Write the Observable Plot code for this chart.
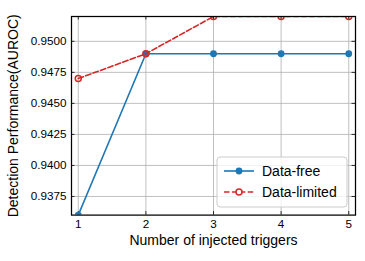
<!DOCTYPE html>
<html><head><meta charset="utf-8">
<script src="https://cdn.jsdelivr.net/npm/d3@7"></script>
<script src="https://cdn.jsdelivr.net/npm/@observablehq/plot@0.6"></script>
<style>body{margin:0;background:white;} #chart{position:relative;width:365px;height:261px;}</style>
</head><body><div id="chart"></div>
<script>
const triggers = [1, 2, 3, 4, 5];
const dataFree = [0.936, 0.949, 0.949, 0.949, 0.949];
const dataLimited = [0.947, 0.949, 0.952, 0.952, 0.952];
const yTicks = [0.9375, 0.9400, 0.9425, 0.9450, 0.9475, 0.9500];
const xTicks = [1, 2, 3, 4, 5];
const seriesNames = ["Data-free", "Data-limited"];
const xLabel = "Number of injected triggers";
const yLabel = "Detection Performance(AUROC)";

const free = triggers.map((x, i) => ({x, y: dataFree[i]}));
const limited = triggers.map((x, i) => ({x, y: dataLimited[i]}));

const W = 365, H = 261, mL = 71, mR = 10, mT = 16, mB = 46.4;
const pw = W - mL - mR, ph = H - mT - mB;
const blue = "#1f77b4", red = "#d62728", grid = "#b0b0b0";
const font = "'Liberation Sans', Arial, sans-serif";

const plot = Plot.plot({
  width: W, height: H, marginLeft: mL, marginRight: mR, marginTop: mT, marginBottom: mB,
  x: {domain: [0.9, 5.1]},
  y: {domain: [0.936, 0.952]},
  style: {fontFamily: font, background: "white", color: "black"},
  marks: [
    Plot.gridX(xTicks, {stroke: grid, strokeOpacity: 1, strokeWidth: 0.8}),
    Plot.gridY(yTicks, {stroke: grid, strokeOpacity: 1, strokeWidth: 0.8}),
    Plot.tickY(yTicks, {y: d => d, insetRight: pw - 3.5, stroke: "black", strokeWidth: 0.8}),
    Plot.tickY(yTicks, {y: d => d, insetLeft: pw - 3.5, stroke: "black", strokeWidth: 0.8}),
    Plot.tickX(xTicks, {x: d => d, insetTop: ph - 3.5, stroke: "black", strokeWidth: 0.8}),
    Plot.tickX(xTicks, {x: d => d, insetBottom: ph - 3.5, stroke: "black", strokeWidth: 0.8}),
    Plot.line(free, {x: "x", y: "y", stroke: blue, strokeWidth: 1.6, clip: "frame"}),
    Plot.dot(free, {x: "x", y: "y", fill: blue, r: 3.4, clip: "frame"}),
    Plot.line(limited, {x: "x", y: "y", stroke: red, strokeWidth: 1.6, strokeDasharray: "5.5,2.4", clip: "frame"}),
    Plot.dot(limited, {x: "x", y: "y", stroke: red, fill: "none", strokeWidth: 1.5, r: 3, clip: "frame"}),
    Plot.frame({stroke: "black", strokeWidth: 1.25}),
    Plot.axisX(xTicks, {tickSize: 0, tickPadding: 4.5, fontSize: 11.7, label: null}),
    Plot.axisY(yTicks, {tickSize: 0, tickPadding: 5, fontSize: 11.7, tickFormat: d3.format(".4f"), label: null}),
    Plot.text([xLabel], {frameAnchor: "bottom", dy: 29.5, fontSize: 14, fill: "black"}),
    Plot.text([yLabel], {frameAnchor: "left", textAnchor: "middle", dx: -58, rotate: -90, fontSize: 14, fill: "black"})
  ]
});
document.getElementById("chart").appendChild(plot);

// legend
const svg = d3.select(plot);
const lg = svg.append("g").attr("font-family", font).attr("font-size", 14).attr("text-anchor", "start");
lg.append("rect").attr("x", 217).attr("y", 157).attr("width", 130).attr("height", 50)
  .attr("rx", 3).attr("fill", "white").attr("fill-opacity", 0.8).attr("stroke", "#cccccc");
seriesNames.forEach((name, i) => {
  const y = 171 + i * 21;
  const c = i === 0 ? blue : red;
  const ln = lg.append("line").attr("x1", 224).attr("x2", 254).attr("y1", y).attr("y2", y)
    .attr("stroke", c).attr("stroke-width", 1.6);
  if (i === 1) ln.attr("stroke-dasharray", "5.5,2.4");
  lg.append("circle").attr("cx", 239).attr("cy", y).attr("r", i === 0 ? 3.4 : 3)
    .attr("fill", i === 0 ? blue : "white").attr("stroke", i === 0 ? "none" : red).attr("stroke-width", 1.5);
  lg.append("text").attr("x", 262).attr("y", y).attr("dy", "0.35em").attr("fill", "black").text(name);
});
</script></body></html>
